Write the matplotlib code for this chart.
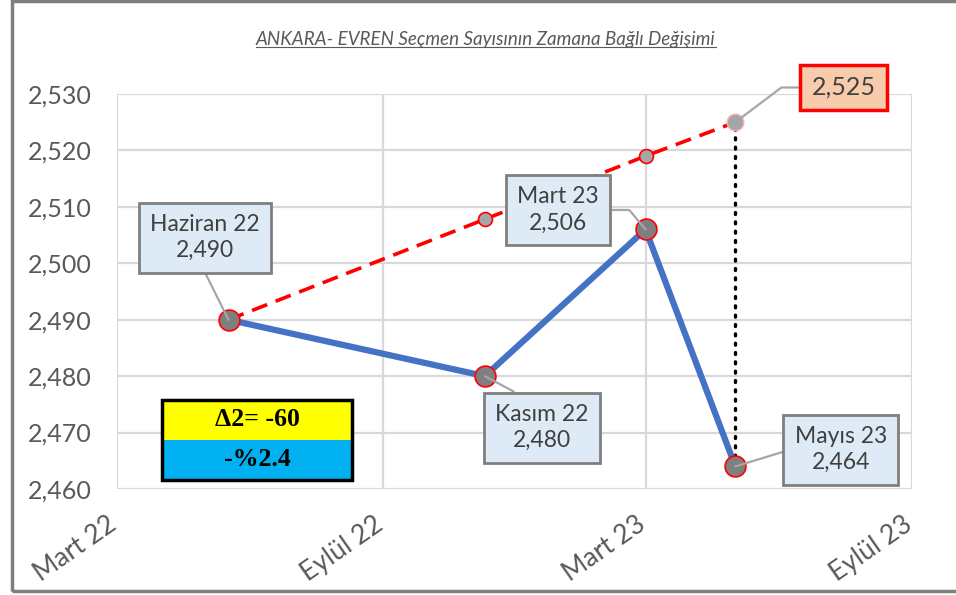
import matplotlib
matplotlib.use('Agg')
import matplotlib.pyplot as plt
import matplotlib.dates as mdates
import matplotlib.transforms as mtrans
from matplotlib.patches import Rectangle
from matplotlib.lines import Line2D
import numpy as np

plt.rcParams['font.family'] = ['Lato', 'DejaVu Sans']

# data
title = 'ANKARA- EVREN Seçmen Sayısının Zamana Bağlı Değişimi'
point_dates = np.array(['2022-05-17', '2022-11-10', '2023-03-01', '2023-05-02'], dtype='datetime64[D]')
point_names = ['Haziran 22', 'Kasım 22', 'Mart 23', 'Mayıs 23']
voters = [2490, 2480, 2506, 2464]
trend = [2490, 2507.8, 2519, 2525]
tick_dates = np.array(['2022-03-01', '2022-09-01', '2023-03-01', '2023-09-01'], dtype='datetime64[D]')
tick_names = ['Mart 22', 'Eylül 22', 'Mart 23', 'Eylül 23']
yticks = [2460, 2470, 2480, 2490, 2500, 2510, 2520, 2530]
delta_text = ['Δ2= -60', '-%2.4']

x = mdates.date2num(point_dates)
xt = mdates.date2num(tick_dates)

fig = plt.figure(figsize=(9.56, 5.95), dpi=100)
ax = fig.add_axes([117/956, 1-489/595, 795/956, 395/595])

ax.set_xlim(xt[0], xt[-1])
ax.set_ylim(2460, 2530)
ax.set_xticks(xt)
ax.set_xticklabels(tick_names, rotation=35, ha='right', va='top', rotation_mode='anchor',
                   fontsize=19, color='#595959')
ax.set_yticks(yticks)
ax.set_yticklabels(['{:,}'.format(v) for v in yticks], fontsize=18, color='#595959')
ax.tick_params(length=0)
ax.tick_params(axis='x', pad=22)
ax.tick_params(axis='y', pad=18)
shift = mtrans.ScaledTranslation(-10/100, 8/100, fig.dpi_scale_trans)
for lbl in ax.get_xticklabels():
    lbl.set_transform(lbl.get_transform() + shift)
for s in ax.spines.values():
    s.set_visible(False)
ax.grid(True, color='#D9D9D9', lw=1.6)
ax.set_axisbelow(True)

# trend line (red dashed)
ax.plot(x, trend, color='#FF0000', lw=2.6, ls=(0, (4.5, 2.5)), zorder=3)
ax.plot(x[1:3], trend[1:3], ls='none', marker='o', ms=10, mfc='#A6A6A6', mec='#FF0000',
        mew=1.2, zorder=4)
ax.plot(x[3], trend[3], ls='none', marker='o', ms=12, mfc='#A6A6A6', mec='#F4B6B6',
        mew=1, zorder=4)

# dotted vertical difference
ax.plot([x[3], x[3]], [voters[3], trend[3]], color='black', lw=2.4,
        ls=(0, (0.6, 2.2)), dash_capstyle='round', zorder=3)

# actual voters
ax.plot(x, voters, color='#4472C4', lw=4.5, zorder=5)
ax.plot(x, voters, ls='none', marker='o', ms=15, mfc='#7F7F7F', mec='#FF0000', mew=1.2, zorder=6)

# data labels
offsets = [(-17, 59), (41, -37), (-63, 14), (76, 12)]
relpos = [(0.45, 0), (0.45, 1), (1, 0.5), (0, 0.5)]
conn = ['arc3', 'arc3', 'angle,angleA=0,angleB=130,rad=0', 'angle,angleA=0,angleB=17,rad=0']
for i in range(4):
    ax.annotate('{}\n{:,}'.format(point_names[i], voters[i]), (x[i], voters[i]),
                xytext=offsets[i], textcoords='offset points', ha='center', va='center',
                fontsize=16.5, color='#404040', linespacing=1.3,
                bbox=dict(boxstyle='square,pad=0.5', fc='#DEEBF7', ec='#7F7F7F', lw=2),
                arrowprops=dict(arrowstyle='-', color='#A6A6A6', lw=1.6, relpos=relpos[i],
                                connectionstyle=conn[i], shrinkA=0, shrinkB=0), zorder=7)

ax.annotate('{:,}'.format(trend[3]), (x[3], trend[3]), xytext=(78, 25),
            textcoords='offset points', ha='center', va='center', fontsize=18, color='#404040',
            bbox=dict(boxstyle='square,pad=0.45', fc='#F8CBAD', ec='#FF0000', lw=2.5),
            arrowprops=dict(arrowstyle='-', color='#A6A6A6', lw=1.6, relpos=(0, 0.5),
                            connectionstyle='angle,angleA=0,angleB=37,rad=0',
                            shrinkA=0, shrinkB=0), zorder=7)

# delta box
bx0, bx1 = (162-117)/795, (352-117)/795
by0, bym, by1 = (489-480)/395, (489-440)/395, (489-400)/395
ax.add_patch(Rectangle((bx0, bym), bx1-bx0, by1-bym, transform=ax.transAxes, fc='#FFFF00', ec='none', zorder=8))
ax.add_patch(Rectangle((bx0, by0), bx1-bx0, bym-by0, transform=ax.transAxes, fc='#00B0F0', ec='none', zorder=8))
ax.add_patch(Rectangle((bx0, by0), bx1-bx0, by1-by0, transform=ax.transAxes, fc='none', ec='black', lw=2.5, zorder=9))
ax.text((bx0+bx1)/2, (bym+by1)/2, delta_text[0], transform=ax.transAxes, ha='center', va='center',
        fontsize=18.5, fontweight='bold', family=['Liberation Serif', 'DejaVu Serif'], zorder=10)
ax.text((bx0+bx1)/2, (by0+bym)/2, delta_text[1], transform=ax.transAxes, ha='center', va='center',
        fontsize=18.5, fontweight='bold', family=['Liberation Serif', 'DejaVu Serif'], zorder=10)

# title with underline
t = fig.text(0.508, 1-40/595, title, ha='center', va='center', fontsize=13.5, style='italic', color='#595959')
fig.canvas.draw()
bb = t.get_window_extent().transformed(fig.transFigure.inverted())
fig.add_artist(Line2D([bb.x0, bb.x1], [bb.y0 + 0.002, bb.y0 + 0.002], color='#595959', lw=0.8))

# outer frame
fig.add_artist(Rectangle((12/956, 4/595), 1.2, 590/595, transform=fig.transFigure, fc='none',
                         ec='#7F7F7F', lw=2.5))

fig.savefig('out.png', dpi=100)
